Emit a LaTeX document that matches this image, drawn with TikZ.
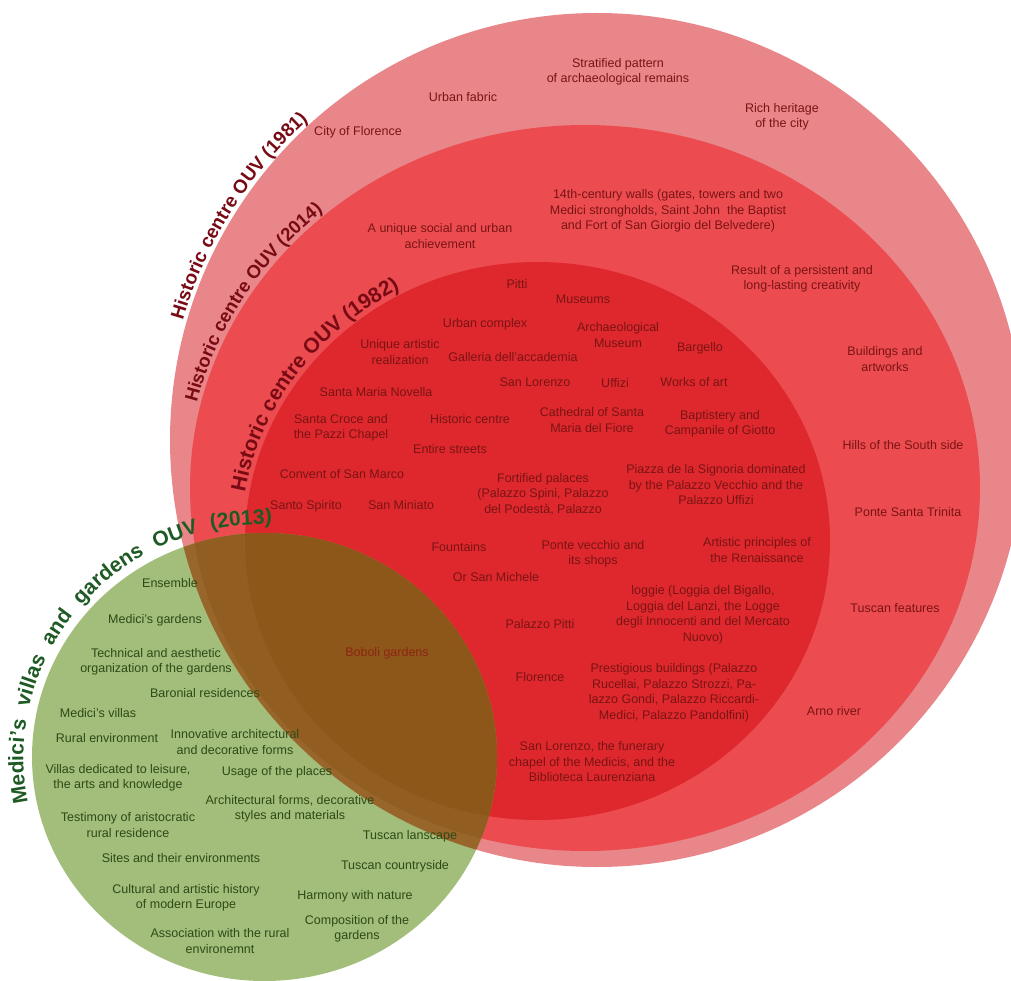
\documentclass[tikz,border=0pt]{standalone}
\usepackage{fontspec}
\setmainfont{Liberation Sans}
\usepackage{tikz}
\usetikzlibrary{decorations.text}

\definecolor{outerpink}{HTML}{E8868A}
\definecolor{midred}{HTML}{EC4C50}
\definecolor{innerred}{HTML}{DE282D}
\definecolor{villagreen}{HTML}{A2BE7A}
\definecolor{brownA}{HTML}{98652A}
\definecolor{brownB}{HTML}{915D20}
\definecolor{brownC}{HTML}{8C5719}
\definecolor{txtred}{HTML}{7A1414}
\definecolor{txtgreen}{HTML}{2E4A18}
\definecolor{ttlred}{HTML}{780A14}
\definecolor{ttlgreen}{HTML}{1E5A23}
\definecolor{boboli}{HTML}{8E2414}

\newcommand{\lblfont}{\fontsize{12.5}{15.5}\selectfont}

\begin{document}
\begin{tikzpicture}[x=1pt,y=1pt,
  redtxt/.style={text=txtred,align=center,font=\lblfont,inner sep=0pt},
  grntxt/.style={text=txtgreen,align=center,font=\lblfont,inner sep=0pt},
  arctitle/.style={decorate,decoration={text along path,text align=center,text color=#1}}]
  \useasboundingbox (0,0) rectangle (1011,-981);
  \clip (0,0) rectangle (1011,-981);

  \coordinate (oc) at (597,-440);
  \coordinate (mc) at (585,-488);
  \coordinate (ic) at (537.5,-541);
  \coordinate (gc) at (264.5,-757);

  % circles
  \fill[outerpink] (oc) circle[radius=427pt];
  \fill[midred] (mc) ellipse[x radius=395pt,y radius=363pt];
  \fill[innerred] (ic) ellipse[x radius=292.5pt,y radius=279pt];
  \fill[villagreen] (gc) ellipse[x radius=232.5pt,y radius=224pt];
  \begin{scope}
    \clip (gc) ellipse[x radius=232.5pt,y radius=224pt];
    \fill[brownA] (oc) circle[radius=427pt];
    \fill[brownB] (mc) ellipse[x radius=395pt,y radius=363pt];
    \fill[brownC] (ic) ellipse[x radius=292.5pt,y radius=279pt];
  \end{scope}

  % curved titles
  \path[arctitle=ttlred,decoration={text={|\fontsize{19}{19}\selectfont\bfseries|Historic centre OUV (1981)}}]
    (oc) ++(172:431pt) arc[start angle=172,end angle=124,radius=431pt];
  \path[arctitle=ttlred,decoration={text={|\fontsize{18.5}{19}\selectfont\bfseries|Historic centre OUV (2014)}}]
    (mc) ++(174:399pt and 367pt) arc[start angle=174,end angle=124,x radius=399pt,y radius=367pt];
  \path[arctitle=ttlred,decoration={text={|\fontsize{21}{21}\selectfont\bfseries|Historic centre OUV (1982)}}]
    (ic) ++(178:297pt and 284pt) arc[start angle=178,end angle=110,x radius=297pt,y radius=284pt];
  \path[arctitle=ttlgreen,decoration={text={|\fontsize{21}{21}\selectfont\bfseries|Medici's{\kern13pt}villas{\kern13pt}and{\kern13pt}gardens{\kern13pt}OUV{\kern13pt}(2013)}}]
    (gc) ++(205:241pt and 233pt) arc[start angle=205,end angle=75,x radius=241pt,y radius=233pt];

  % historic centre 1981
  \node[redtxt] (cityflorence) at (358,-132) {City of Florence};
  \node[redtxt] (urbanfabric) at (463,-97) {Urban fabric};
  \node[redtxt] (stratified) at (618,-72) {Stratified pattern\\of archaeological remains};
  \node[redtxt] (richheritage) at (782,-117) {Rich heritage\\of the city};

  % historic centre 2014
  \node[redtxt] (uniquesocial) at (440,-236) {A unique social and urban\\achievement};
  \node[redtxt] (walls) at (668,-211) {14th-century walls (gates, towers and two\\Medici strongholds, Saint John\ \ the Baptist\\and Fort of San Giorgio del Belvedere)};
  \node[redtxt] (creativity) at (802,-279) {Result of a persistent and\\long-lasting creativity};
  \node[redtxt] (artworks) at (885,-359) {Buildings and\\artworks};
  \node[redtxt] (hills) at (903,-445) {Hills of the South side};
  \node[redtxt] (trinita) at (908,-512) {Ponte Santa Trinita};
  \node[redtxt] (tuscanfeat) at (895,-608) {Tuscan features};
  \node[redtxt] (arno) at (834,-711) {Arno river};

  % historic centre 1982
  \node[redtxt] (pitti) at (517,-284) {Pitti};
  \node[redtxt] (museums) at (583,-299) {Museums};
  \node[redtxt] (urbancomplex) at (485,-324) {Urban complex};
  \node[redtxt] (uniqueart) at (400,-352) {Unique artistic\\realization};
  \node[redtxt] (archmuseum) at (618,-335) {Archaeological\\Museum};
  \node[redtxt] (bargello) at (700,-348) {Bargello};
  \node[redtxt] (accademia) at (513,-357) {Galleria dell'accademia};
  \node[redtxt] (novella) at (376,-392) {Santa Maria Novella};
  \node[redtxt] (sanlorenzo) at (535,-382) {San Lorenzo};
  \node[redtxt] (uffizi) at (615,-383) {Uffizi};
  \node[redtxt] (worksart) at (694,-382) {Works of art};
  \node[redtxt] (santacroce) at (341,-428) {Santa Croce and\\the Pazzi Chapel};
  \node[redtxt] (historic) at (470,-419) {Historic centre};
  \node[redtxt] (cathedral) at (592,-420) {Cathedral of Santa\\Maria del Fiore};
  \node[redtxt] (baptistery) at (720,-424) {Baptistery and\\Campanile of Giotto};
  \node[redtxt] (streets) at (450,-449) {Entire streets};
  \node[redtxt] (sanmarco) at (342,-474) {Convent of San Marco};
  \node[redtxt] (fortified) at (543,-494) {Fortified palaces\\(Palazzo Spini, Palazzo\\del Podestà, Palazzo};
  \node[redtxt] (signoria) at (716,-485) {Piazza de la Signoria dominated\\by the Palazzo Vecchio and the\\Palazzo Uffizi};
  \node[redtxt] (spirito) at (306,-506) {Santo Spirito};
  \node[redtxt] (miniato) at (401,-505) {San Miniato};
  \node[redtxt] (fountains) at (459,-547) {Fountains};
  \node[redtxt] (vecchio) at (593,-554) {Ponte vecchio and\\its shops};
  \node[redtxt] (renaissance) at (757,-550) {Artistic principles of\\the Renaissance};
  \node[redtxt] (orsanmichele) at (496,-577) {Or San Michele};
  \node[redtxt] (loggie) at (703,-615) {loggie (Loggia del Bigallo,\\Loggia del Lanzi, the Logge\\degli Innocenti and del Mercato\\Nuovo)};
  \node[redtxt] (palpitti) at (540,-624) {Palazzo Pitti};
  \node[redtxt] (florence) at (540,-677) {Florence};
  \node[redtxt] (prestigious) at (674,-693) {Prestigious buildings (Palazzo\\Rucellai, Palazzo Strozzi, Pa-\\lazzo Gondi, Palazzo Riccardi-\\Medici, Palazzo Pandolfini)};
  \node[redtxt] (funerary) at (592,-762) {San Lorenzo, the funerary\\chapel of the Medicis, and the\\Biblioteca Laurenziana};

  % overlap
  \node[redtxt,text=boboli] (boboli) at (387,-653) {Boboli gardens};

  % villas and gardens 2013
  \node[grntxt] (ensemble) at (170,-583) {Ensemble};
  \node[grntxt] (medgardens) at (155,-620) {Medici's gardens};
  \node[grntxt] (technical) at (156,-662) {Technical and aesthetic\\organization of the gardens};
  \node[grntxt] (baronial) at (205,-693) {Baronial residences};
  \node[grntxt] (medvillas) at (98,-713) {Medici's villas};
  \node[grntxt] (rural) at (107,-738) {Rural environment};
  \node[grntxt] (innovative) at (235,-742) {Innovative architectural\\and decorative forms};
  \node[grntxt] (leisure) at (118,-778) {Villas dedicated to leisure,\\the arts and knowledge};
  \node[grntxt] (usage) at (277,-772) {Usage of the places};
  \node[grntxt] (archforms) at (290,-809) {Architectural forms, decorative\\styles and materials};
  \node[grntxt] (testimony) at (128,-825) {Testimony of aristocratic\\rural residence};
  \node[grntxt] (landscape) at (410,-836) {Tuscan lanscape};
  \node[grntxt] (sites) at (181,-858) {Sites and their environments};
  \node[grntxt] (countryside) at (395,-866) {Tuscan countryside};
  \node[grntxt] (cultural) at (186,-898) {Cultural and artistic history\\of modern Europe};
  \node[grntxt] (harmony) at (355,-896) {Harmony with nature};
  \node[grntxt] (association) at (220,-941) {Association with the rural\\environemnt};
  \node[grntxt] (composition) at (357,-929) {Composition of the\\gardens};
\end{tikzpicture}
\end{document}
